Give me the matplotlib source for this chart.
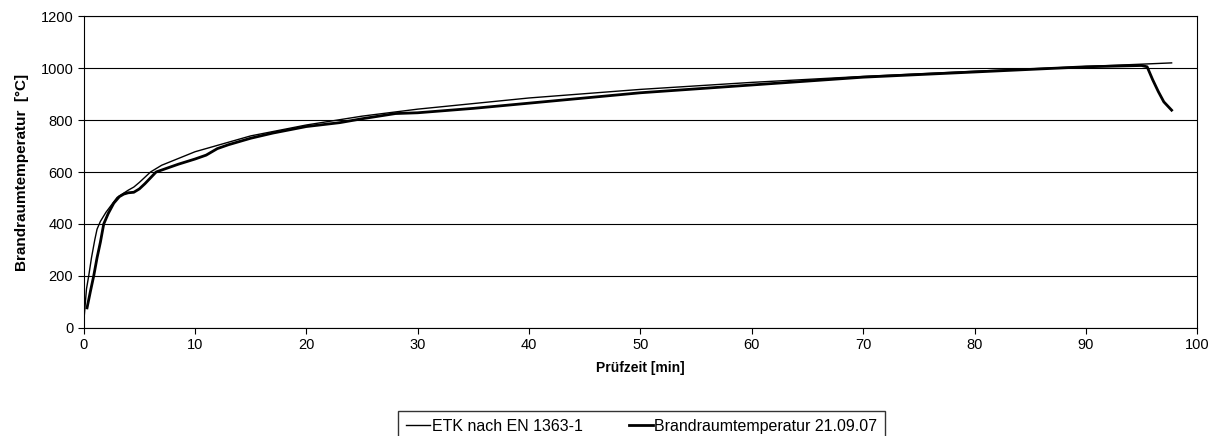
import matplotlib.pyplot as plt

plt.rcParams["font.family"] = ["Liberation Sans", "DejaVu Sans"]

# ETK nach EN 1363-1
etk_t = [0, 0.25, 0.45, 0.7, 1, 1.2, 1.5, 2, 2.7, 3, 4, 4.5, 5, 6, 7, 10, 15, 20, 25, 30, 40, 50, 60, 70, 80, 90, 97.7]
etk_T = [20, 150, 200, 270, 340, 380, 410, 445, 485, 502, 530, 542, 560, 600, 626, 678, 739, 781, 815, 842, 885, 918,
         945, 968, 988, 1006, 1020]

# Brandraumtemperatur 21.09.07
mess_t = [0.3, 0.6, 0.9, 1.2, 1.5, 1.8, 2.2, 2.7, 3.2, 3.6, 4, 4.5, 5, 5.5, 6.5, 7.5, 8.5, 10, 11, 12, 13, 15, 17,
          20, 23, 25, 28, 30, 35, 40, 45, 50, 55, 60, 65, 70, 75, 80, 85, 90, 93, 95, 95.5, 96, 96.5, 97, 97.7]
mess_T = [77, 140, 200, 270, 330, 400, 440, 480, 505, 515, 520, 522, 535, 555, 600, 615, 630, 650, 665, 690, 705,
          730, 750, 775, 790, 805, 825, 828, 845, 865, 885, 905, 920, 935, 950, 965, 975, 985, 995, 1005, 1008,
          1010, 1005, 955, 910, 870, 838]

fig = plt.figure(figsize=(12.13, 4.36), dpi=100)
ax = fig.add_axes([0.069, 0.248, 0.918, 0.715])

ax.plot(etk_t, etk_T, color="black", linewidth=1.0, label="ETK nach EN 1363-1")
ax.plot(mess_t, mess_T, color="black", linewidth=2.0, label="Brandraumtemperatur 21.09.07")

ax.set_xlim(0, 100)
ax.set_ylim(0, 1200)
ax.set_xticks(range(0, 101, 10))
ax.set_yticks(range(0, 1201, 200))
ax.yaxis.grid(True, color="black", linewidth=0.8)
ax.set_axisbelow(True)
for s in ax.spines.values():
    s.set_color("black")
    s.set_linewidth(0.8)
ax.tick_params(direction="out", length=4, color="black", labelsize=10.5)

ax.set_xlabel("Prüfzeit [min]", fontsize=10, fontweight="bold", labelpad=6)
ax.set_ylabel("Brandraumtemperatur  [°C]", fontsize=11, fontweight="bold", labelpad=8)

fig.legend(loc="upper center", bbox_to_anchor=(0.529, 0.0573), ncol=2, frameon=True,
           fancybox=False, edgecolor="black", fontsize=11.5, handlelength=1.5, handletextpad=0.1,
           columnspacing=2.9, borderpad=0.5, borderaxespad=0)

fig.savefig("out.png", dpi=100)
